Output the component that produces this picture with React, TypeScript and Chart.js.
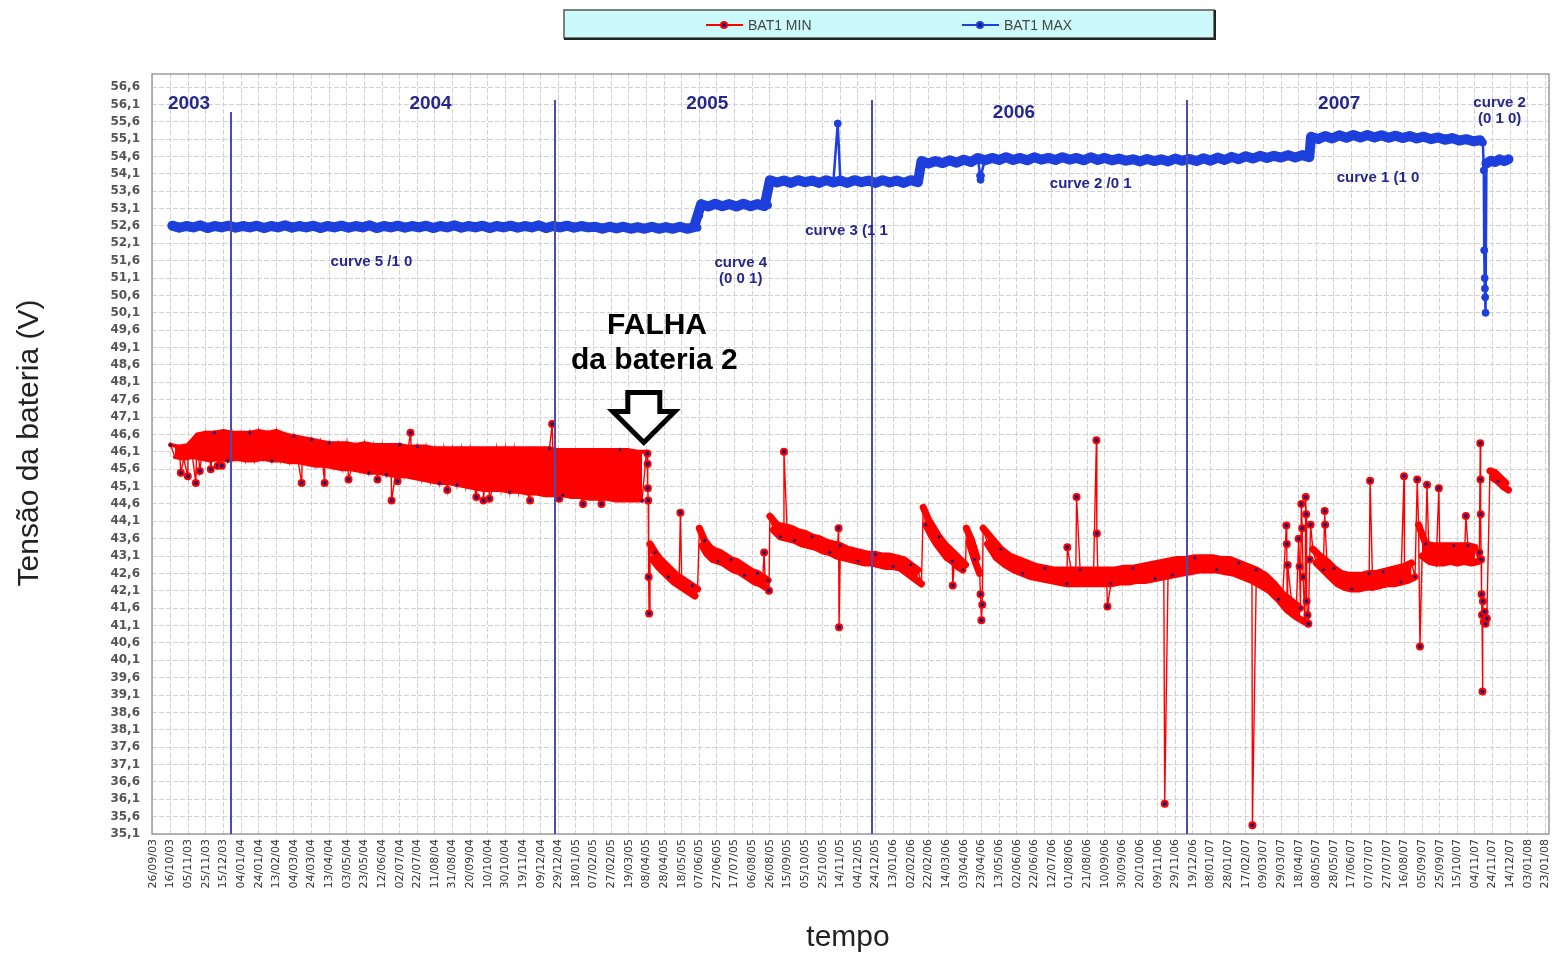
import React, { useEffect, useRef } from 'react';
import { Chart, registerables } from 'chart.js';

Chart.register(...registerables);

// ---------- axis labels ----------
const xTickLabels = [
  '26/09/03', '16/10/03', '05/11/03', '25/11/03', '15/12/03',
  '04/01/04', '24/01/04', '13/02/04', '04/03/04', '24/03/04', '13/04/04', '03/05/04', '23/05/04', '12/06/04', '02/07/04',
  '22/07/04', '11/08/04', '31/08/04', '20/09/04', '10/10/04', '30/10/04', '19/11/04', '09/12/04', '29/12/04',
  '18/01/05', '07/02/05', '27/02/05', '19/03/05', '08/04/05', '28/04/05', '18/05/05', '07/06/05', '27/06/05',
  '17/07/05', '06/08/05', '26/08/05', '15/09/05', '05/10/05', '25/10/05', '14/11/05', '04/12/05', '24/12/05',
  '13/01/06', '02/02/06', '22/02/06', '14/03/06', '03/04/06', '23/04/06', '13/05/06', '02/06/06', '22/06/06',
  '12/07/06', '01/08/06', '21/08/06', '10/09/06', '30/09/06', '20/10/06', '09/11/06', '29/11/06', '19/12/06',
  '08/01/07', '28/01/07', '17/02/07', '09/03/07', '29/03/07', '18/04/07', '08/05/07', '28/05/07', '17/06/07',
  '07/07/07', '27/07/07', '16/08/07', '05/09/07', '25/09/07', '15/10/07', '04/11/07', '24/11/07', '14/12/07',
  '03/01/08', '23/01/08',
];
const X_TICK_DAYS = 20; // one label every 20 days (day 0 = 26/09/03)

const yTicks = [
  56.6, 56.1, 55.6, 55.1, 54.6, 54.1, 53.6, 53.1, 52.6, 52.1, 51.6, 51.1, 50.6, 50.1, 49.6, 49.1, 48.6, 48.1,
  47.6, 47.1, 46.6, 46.1, 45.6, 45.1, 44.6, 44.1, 43.6, 43.1, 42.6, 42.1, 41.6, 41.1, 40.6, 40.1, 39.6, 39.1,
  38.6, 38.1, 37.6, 37.1, 36.6, 36.1, 35.6, 35.1,
];

// ---------- BAT1 MIN (red) : values, x in days since 26/09/03 ----------
// each band alternates upper / lower daily readings
const minBandA = [
  46.3, 45.95, 46.25, 45.9, 46.3, 45.95, 46.6, 45.9, 46.65, 45.85,
  46.65, 45.9, 46.7, 45.85, 46.65, 45.9, 46.65, 45.85, 46.65, 45.85,
  46.7, 45.9, 46.65, 45.85, 46.7, 45.85, 46.6, 45.8, 46.55, 45.8,
  46.5, 45.75, 46.45, 45.7, 46.4, 45.7, 46.35, 45.65, 46.35, 45.6,
  46.35, 45.6, 46.3, 45.55, 46.35, 45.5, 46.3, 45.5, 46.3, 45.45,
  46.3, 45.4, 46.3, 45.4, 46.25, 45.35, 46.25, 45.3, 46.25, 45.25,
  46.2, 45.2, 46.2, 45.2, 46.2, 45.15, 46.2, 45.1, 46.2, 45.05,
  46.2, 45.0, 46.2, 45.0, 46.2, 45.0, 46.2, 44.95, 46.2, 44.95,
  46.2, 44.9, 46.2, 44.9, 46.2, 44.85, 46.2, 44.85, 46.15, 44.85,
  46.15, 44.8, 46.15, 44.8, 46.15, 44.75, 46.15, 44.75, 46.15, 44.75,
  46.15, 44.7, 46.15, 44.7, 46.15, 44.7, 46.1, 44.7, 46.1,
];
const minBandB = [43.45, 43.0, 43.2, 42.8, 43.0, 42.65, 42.85, 42.5, 42.7, 42.35, 42.55, 42.25, 42.45, 42.15, 42.35, 42.05, 42.25, 41.95, 42.15];
const minBandC = [
  43.9, 43.4, 43.55, 43.15, 43.35, 43.0, 43.25, 42.95, 43.2, 42.9, 43.1, 42.8, 43.0, 42.7,
  42.95, 42.65, 42.85, 42.55, 42.75, 42.45, 42.65, 42.35, 42.6, 42.3, 42.5, 42.2, 42.4,
];
const minBandD = [
  44.25, 43.85, 44.0, 43.65, 43.95, 43.6, 43.9, 43.55, 43.8, 43.45, 43.75, 43.4, 43.65, 43.35, 43.6, 43.25,
  43.5, 43.2, 43.45, 43.1, 43.4, 43.05, 43.3, 43.0, 43.25, 42.95, 43.2, 42.9, 43.15, 42.9, 43.15, 42.85,
  43.1, 42.8, 43.1, 42.8, 43.05, 42.75, 43.0, 42.6, 42.85, 42.45, 42.7, 42.3,
];
const minBandE = [44.5, 44.0, 44.15, 43.7, 43.9, 43.45, 43.65, 43.25, 43.45, 43.05, 43.3, 42.95, 43.15, 42.8, 43.0, 42.7, 42.85];
const minBandE2 = [43.9, 43.5, 43.55, 43.0, 43.05, 42.6];
const minBandE3 = [
  43.9, 43.45, 43.6, 43.05, 43.3, 42.85, 43.1, 42.7, 43.0, 42.6,
  42.9, 42.5, 42.8, 42.45, 42.75, 42.4, 42.7, 42.35, 42.7, 42.3,
  42.7, 42.3, 42.7, 42.3, 42.7, 42.3, 42.7, 42.3, 42.7, 42.3,
  42.7, 42.35, 42.75, 42.35, 42.75, 42.4, 42.8, 42.4, 42.85, 42.45,
  42.9, 42.5, 42.95, 42.55, 43.0, 42.6, 43.0, 42.65, 43.05, 42.7,
  43.05, 42.7, 43.05, 42.7, 43.0, 42.65, 43.0, 42.6, 42.9, 42.5,
  42.8, 42.4, 42.7, 42.25, 42.55, 42.1, 42.3, 41.85, 42.0, 41.55,
  41.8, 41.35, 41.6, 41.2,
];
const minBandF = [
  43.3, 42.9, 43.1, 42.7, 42.95, 42.5, 42.75, 42.3, 42.6, 42.2, 42.55, 42.15, 42.55, 42.15, 42.55,
  42.2, 42.6, 42.2, 42.6, 42.25, 42.65, 42.3, 42.7, 42.3, 42.75, 42.35, 42.8, 42.4, 42.9, 42.5,
];
const minBandG = [44.0, 43.1, 43.45, 42.95, 43.4, 42.9, 43.4, 42.9, 43.4, 42.95, 43.4, 42.9, 43.4, 42.95, 43.4, 42.9, 43.35, 42.95];
const minBandH = [45.55, 45.35, 45.5, 45.25, 45.35, 45.1, 45.2, 45.0];

// [start day, step in days, values]
const minSegments: [number, number, number[]][] = [
  [20, 5, minBandA],
  [564, 3, minBandB],
  [620, 3, minBandC],
  [700, 4, minBandD],
  [874, 3, minBandE],
  [923, 3, minBandE2],
  [942, 5, minBandE3],
  [1316, 4, minBandF],
  [1436, 4, minBandG],
  [1517, 3, minBandH],
];

// isolated readings (spikes) : [day, volts]
const minSpikes: [number, number][] = [
  [31.7, 45.5], [39.6, 45.4], [48.7, 45.2], [53.2, 45.55], [65.7, 45.6], [73.6, 45.7], [78.2, 45.7],
  [168.8, 45.2], [194.9, 45.2], [222, 45.3], [254.9, 45.3], [270.8, 44.7], [277.6, 45.25], [292.3, 46.65],
  [334, 45.0], [367, 44.8], [375, 44.7], [381.8, 44.75], [428, 44.7], [453, 46.9], [461, 44.75], [488, 44.6], [509, 44.6],
  [561, 46.05], [561.3, 45.75], [561.6, 45.05], [562, 44.7], [562.5, 42.5], [563, 41.45],
  [598.5, 44.35], [693.5, 43.2], [699, 42.1],
  [716, 46.1], [778, 43.9], [778.5, 41.05], [907.5, 42.25],
  [939, 42.0], [940, 41.25], [941, 41.7],
  [1037.5, 43.35], [1048, 44.8], [1070.5, 46.43], [1071, 43.75], [1083, 41.65], [1148, 35.97], [1247.5, 35.35],
  [1286, 43.98], [1286.5, 43.45], [1287.5, 42.84], [1300, 43.6], [1301, 42.8], [1303, 44.6], [1304, 43.9],
  [1305, 42.5], [1308, 44.8], [1308.5, 44.3], [1309, 41.8], [1310, 41.4], [1311, 41.15], [1312.5, 43.0],
  [1313.5, 44.0], [1329.5, 44.4], [1330, 44.0],
  [1381, 45.27], [1419.5, 45.4], [1434.5, 45.3], [1437.6, 40.5], [1445.6, 45.15], [1459, 45.05], [1489.7, 44.25],
  [1505, 43.2], [1506, 46.35], [1506.3, 45.3], [1506.6, 44.3], [1507, 43.0], [1507.5, 42.0], [1508, 41.4],
  [1508.5, 39.2], [1509, 41.8], [1510, 41.2], [1511, 41.5], [1512, 41.15], [1513.5, 41.3],
];

// ---------- BAT1 MAX (blue) ----------
const maxBand1 = [
  52.61, 52.55, 52.6, 52.56, 52.62, 52.54, 52.6, 52.56, 52.61, 52.55,
  52.6, 52.56, 52.61, 52.54, 52.6, 52.56, 52.62, 52.55, 52.6, 52.56,
  52.61, 52.54, 52.6, 52.56, 52.61, 52.55, 52.6, 52.56, 52.62, 52.54,
  52.6, 52.56, 52.61, 52.55, 52.6, 52.56, 52.61, 52.54, 52.6, 52.56,
  52.62, 52.55, 52.6, 52.56, 52.61, 52.54, 52.6, 52.56, 52.61, 52.55,
  52.6, 52.56, 52.62, 52.54, 52.6, 52.56, 52.61, 52.55, 52.6, 52.56,
  52.58, 52.52, 52.58, 52.53, 52.58, 52.52, 52.57, 52.52, 52.58, 52.52,
  52.57, 52.52, 52.58, 52.52, 52.57,
];
const maxBand2 = [53.23, 53.16, 53.24, 53.17, 53.23, 53.16, 53.24, 53.17, 53.23, 53.17];
const maxBand3 = [
  53.92, 53.85, 53.91, 53.84, 53.92, 53.86, 53.91, 53.84, 53.92, 53.85, 53.91,
  53.84, 53.92, 53.86, 53.91, 53.84, 53.92, 53.85, 53.91, 53.84, 53.92, 53.86,
];
const maxBand4 = [
  54.47, 54.4, 54.47, 54.41, 54.49, 54.42, 54.51, 54.44,
  54.56, 54.49, 54.56, 54.5, 54.58, 54.5, 54.56, 54.49, 54.58, 54.51,
  54.56, 54.5, 54.58, 54.51, 54.56, 54.49, 54.58, 54.5, 54.56, 54.49,
  54.54, 54.48, 54.52, 54.46, 54.53, 54.47, 54.52, 54.46, 54.54, 54.48,
  54.53, 54.47, 54.55, 54.48, 54.57, 54.5, 54.59, 54.52, 54.61, 54.54,
  54.62, 54.56, 54.62, 54.57, 54.64, 54.57, 54.64, 54.58,
];
const maxBand5 = [
  55.17, 55.1, 55.19, 55.12, 55.21, 55.14, 55.22, 55.15, 55.22, 55.15, 55.21, 55.14, 55.2,
  55.13, 55.19, 55.12, 55.17, 55.1, 55.15, 55.08, 55.13, 55.06, 55.1, 55.04, 55.07,
];
const maxBand6 = [54.4, 54.48, 54.44, 54.52, 54.47, 54.52];

// [start day, step, values, break line before]
const maxSegments: [number, number, number[], boolean][] = [
  [22, 8, maxBand1, false],
  [622, 8, maxBand2, false],
  [700, 8, maxBand3, false],
  [872, 8, maxBand4, false],
  [1314, 8, maxBand5, false],
  [1513, 5, maxBand6, true],
];
const maxSpikes: [number, number][] = [
  [618, 52.55], [620, 52.9], [698, 53.2], [777, 55.55],
  [938.5, 54.05], [939, 53.93], [939.5, 54.05],
  [1509, 55.0], [1510, 54.2], [1510.5, 51.9], [1511, 51.1], [1511.3, 50.8], [1511.6, 50.55], [1512, 50.1],
];

// ---------- annotations (data coordinates: day, volts) ----------
const yearLabels: [string, number, number][] = [
  ['2003', 41, 56.11], ['2004', 315, 56.11], ['2005', 629, 56.11], ['2006', 977, 55.85], ['2007', 1346, 56.11],
];
const curveLabels: [string, number, number][] = [
  ['curve 5 /1 0', 248, 51.56], ['curve 4', 667, 51.53], ['(0 0 1)', 667, 51.07], ['curve 3 (1 1', 787, 52.45],
  ['curve 2 /0 1', 1064, 53.8], ['curve 1 (1 0', 1390, 54.0], ['curve 2', 1528, 56.14], ['(0 1 0)', 1528, 55.68],
];
const yearLines: [number, number][] = [[88.4, 55.88], [456.6, 56.23], [815.7, 56.23], [1173.7, 56.23]];
const failureLines: [string, number, number][] = [['FALHA', 572, 49.74], ['da bateria 2', 569, 48.73]];
const arrowTip: [number, number] = [557, 46.37];

const RED = '#ff0000';
const NAVY = '#1b1b7a';
const BLUE = '#1d3fdc';

type P = { x: number; y: number | null; spike: boolean };
type Seg = [number, number, number[], ...any[]];

function buildAll(segs: Seg[], spikes: [number, number][]): P[] {
  const pts: P[] = [];
  segs.forEach(([start, step, vals]) => vals.forEach((v, i) => pts.push({ x: start + i * step, y: v, spike: false })));
  spikes.forEach(([x, y]) => pts.push({ x, y, spike: true }));
  pts.sort((a, b) => a.x - b.x);
  return pts;
}
// upper (parity 0) or lower (parity 1) edge of each band, broken between segments
function buildEdge(segs: Seg[], parity: number): P[] {
  const pts: P[] = [];
  segs.forEach(([start, step, vals], k) => {
    if (k > 0) pts.push({ x: start - 0.5, y: null, spike: false });
    vals.forEach((v, i) => {
      if (i % 2 === parity) pts.push({ x: start + i * step, y: v, spike: false });
    });
  });
  return pts;
}
function buildBand(segs: Seg[]): P[] {
  const pts: P[] = [];
  segs.forEach(([start, step, vals, brk]) => {
    if (brk) pts.push({ x: start - 0.5, y: null, spike: false });
    vals.forEach((v, i) => pts.push({ x: start + i * step, y: v, spike: false }));
  });
  return pts;
}

const minAll = buildAll(minSegments, minSpikes);
const minTop = buildEdge(minSegments, 0);
const minBottom = buildEdge(minSegments, 1);
const maxAll = buildAll(maxSegments, maxSpikes);
const maxBand = buildBand(maxSegments);

const FONT = '"Liberation Sans", Arial, sans-serif';

const decor = {
  id: 'decor',
  beforeDatasetsDraw(chart: any) {
    const { ctx, chartArea: a } = chart;
    ctx.save();
    ctx.strokeStyle = '#9c9c9c';
    ctx.lineWidth = 1.5;
    ctx.strokeRect(a.left, a.top, a.right - a.left, a.bottom - a.top);
    ctx.restore();
  },
  afterDatasetsDraw(chart: any) {
    const { ctx, chartArea: a } = chart;
    const xs = chart.scales.x;
    const ys = chart.scales.y;
    ctx.save();
    ctx.strokeStyle = '#4b4bb0';
    ctx.lineWidth = 2;
    yearLines.forEach(([d, top]) => {
      const px = Math.round(xs.getPixelForValue(d));
      ctx.beginPath();
      ctx.moveTo(px, ys.getPixelForValue(top));
      ctx.lineTo(px, a.bottom);
      ctx.stroke();
    });
    ctx.textAlign = 'center';
    ctx.textBaseline = 'middle';
    ctx.fillStyle = '#262690';
    ctx.font = `bold 19px ${FONT}`;
    yearLabels.forEach(([t, d, v]) => ctx.fillText(t, xs.getPixelForValue(d), ys.getPixelForValue(v)));
    ctx.font = `bold 15px ${FONT}`;
    curveLabels.forEach(([t, d, v]) => ctx.fillText(t, xs.getPixelForValue(d), ys.getPixelForValue(v)));

    // failure arrow
    const tx = xs.getPixelForValue(arrowTip[0]);
    const ty = ys.getPixelForValue(arrowTip[1]);
    ctx.beginPath();
    ctx.moveTo(tx - 16, ty - 50);
    ctx.lineTo(tx + 16, ty - 50);
    ctx.lineTo(tx + 16, ty - 31);
    ctx.lineTo(tx + 31, ty - 31);
    ctx.lineTo(tx, ty);
    ctx.lineTo(tx - 31, ty - 31);
    ctx.lineTo(tx - 16, ty - 31);
    ctx.closePath();
    ctx.fillStyle = '#fff';
    ctx.fill();
    ctx.lineWidth = 5;
    ctx.lineJoin = 'miter';
    ctx.strokeStyle = '#000';
    ctx.stroke();

    ctx.fillStyle = '#000';
    ctx.font = `bold 30px ${FONT}`;
    failureLines.forEach(([t, d, v]) => ctx.fillText(t, xs.getPixelForValue(d), ys.getPixelForValue(v)));
    ctx.restore();
  },
  afterDraw(chart: any) {
    const { ctx } = chart;
    ctx.save();
    // legend box
    ctx.fillStyle = '#ccfafa';
    ctx.fillRect(564, 10, 650, 28);
    ctx.strokeStyle = '#555';
    ctx.lineWidth = 1.5;
    ctx.strokeRect(564, 10, 650, 28);
    ctx.strokeStyle = '#222';
    ctx.lineWidth = 2;
    ctx.beginPath();
    ctx.moveTo(564, 39);
    ctx.lineTo(1215, 39);
    ctx.lineTo(1215, 10);
    ctx.stroke();
    const items: [string, string, number][] = [['BAT1 MIN', RED, 706], ['BAT1 MAX', BLUE, 962]];
    items.forEach(([label, color, x0]) => {
      ctx.strokeStyle = color;
      ctx.lineWidth = 2;
      ctx.beginPath();
      ctx.moveTo(x0, 25);
      ctx.lineTo(x0 + 37, 25);
      ctx.stroke();
      ctx.fillStyle = color;
      ctx.beginPath();
      ctx.arc(x0 + 18, 25, 4, 0, Math.PI * 2);
      ctx.fill();
      ctx.fillStyle = NAVY;
      ctx.beginPath();
      ctx.arc(x0 + 18, 25, 2, 0, Math.PI * 2);
      ctx.fill();
      ctx.fillStyle = '#444';
      ctx.font = `14px ${FONT}`;
      ctx.textAlign = 'left';
      ctx.textBaseline = 'middle';
      ctx.fillText(label, x0 + 42, 26);
    });
    // axis titles
    ctx.fillStyle = '#222';
    ctx.font = `30px ${FONT}`;
    ctx.textAlign = 'center';
    ctx.textBaseline = 'middle';
    ctx.fillText('tempo', 848, 938);
    ctx.translate(30, 443);
    ctx.rotate(-Math.PI / 2);
    ctx.fillText('Tensão da bateria (V)', 0, 0);
    ctx.restore();
  },
};

export default function App() {
  const ref = useRef<HTMLCanvasElement>(null);
  useEffect(() => {
    document.body.style.margin = '0';
    const isSpike = (c: any) => Boolean(c.raw && c.raw.spike);
    // narrow bands after the failure are drawn with a thicker edge, like dense markers
    const edgeWidth = (pts: P[]) => (c: any) => ((pts[c.p0DataIndex] && pts[c.p0DataIndex].x > 563) ? 7 : 4);
    const chart = new Chart(ref.current as HTMLCanvasElement, {
      type: 'line',
      data: {
        datasets: [
          {
            label: 'BAT1 MIN',
            data: minAll as any,
            borderColor: RED,
            borderWidth: 1.4,
            tension: 0,
            pointRadius: (c: any) => (isSpike(c) ? 3 : c.dataIndex % 5 === 0 ? 2 : 0),
            pointBackgroundColor: NAVY,
            pointBorderColor: RED,
            pointBorderWidth: (c: any) => (isSpike(c) ? 2 : 1),
            order: 0,
          },
          {
            label: 'BAT1 MIN upper',
            data: minTop as any,
            borderColor: RED,
            backgroundColor: RED,
            fill: '+1',
            borderWidth: 4,
            segment: { borderWidth: edgeWidth(minTop) },
            borderJoinStyle: 'round',
            borderCapStyle: 'round',
            tension: 0,
            spanGaps: false,
            pointRadius: 0,
            order: 1,
          },
          {
            label: 'BAT1 MIN lower',
            data: minBottom as any,
            borderColor: RED,
            borderWidth: 4,
            segment: { borderWidth: edgeWidth(minBottom) },
            borderJoinStyle: 'round',
            borderCapStyle: 'round',
            tension: 0,
            spanGaps: false,
            pointRadius: 0,
            order: 1,
          },
          {
            label: 'BAT1 MAX',
            data: maxAll as any,
            borderColor: BLUE,
            borderWidth: 2.5,
            tension: 0,
            pointRadius: (c: any) => (isSpike(c) ? 3.5 : 0),
            pointBackgroundColor: BLUE,
            pointBorderColor: BLUE,
            pointBorderWidth: 1,
            order: 0,
          },
          {
            label: 'BAT1 MAX band',
            data: maxBand as any,
            borderColor: BLUE,
            borderWidth: 10,
            borderJoinStyle: 'round',
            borderCapStyle: 'round',
            tension: 0,
            spanGaps: false,
            pointRadius: 2.5,
            pointBackgroundColor: BLUE,
            pointBorderColor: BLUE,
            pointBorderWidth: 1,
            order: 1,
          },
        ],
      },
      options: {
        responsive: false,
        animation: false,
        devicePixelRatio: 1,
        events: [],
        layout: { padding: { top: 74, right: 3, left: 0, bottom: 0 } },
        plugins: { legend: { display: false }, tooltip: { enabled: false } },
        scales: {
          x: {
            type: 'linear',
            min: -1,
            max: 1584,
            afterBuildTicks: (s: any) => {
              s.ticks = xTickLabels.map((_, i) => ({ value: i * X_TICK_DAYS }));
            },
            afterFit: (s: any) => {
              s.height = 123;
              s.paddingLeft = 0;
              s.paddingRight = 0;
            },
            ticks: {
              autoSkip: false,
              minRotation: 90,
              maxRotation: 90,
              padding: 5,
              color: '#333',
              font: { family: 'DejaVu Sans', size: 11 },
              callback: (_v: any, i: number) => xTickLabels[i],
            },
            grid: { color: '#d2d2d2', lineWidth: 1, drawTicks: false },
            border: { display: false, dash: [5, 2] },
          },
          y: {
            type: 'linear',
            min: 35.1,
            max: 56.975,
            afterBuildTicks: (s: any) => {
              s.ticks = yTicks.map((v) => ({ value: v }));
            },
            afterFit: (s: any) => {
              s.width = 152;
            },
            ticks: {
              padding: 12,
              color: '#555',
              font: { family: 'DejaVu Sans', size: 12, weight: 'bold' },
              callback: (v: any) => Number(v).toFixed(1).replace('.', ','),
            },
            grid: { color: '#d2d2d2', lineWidth: 1, drawTicks: false },
            border: { display: false, dash: [5, 2] },
          },
        },
      } as any,
      plugins: [decor],
    });
    return () => chart.destroy();
  }, []);
  return (
    <div style={{ width: 1554, height: 957, background: '#fff' }}>
      <canvas ref={ref} width={1554} height={957} style={{ display: 'block' }} />
    </div>
  );
}
